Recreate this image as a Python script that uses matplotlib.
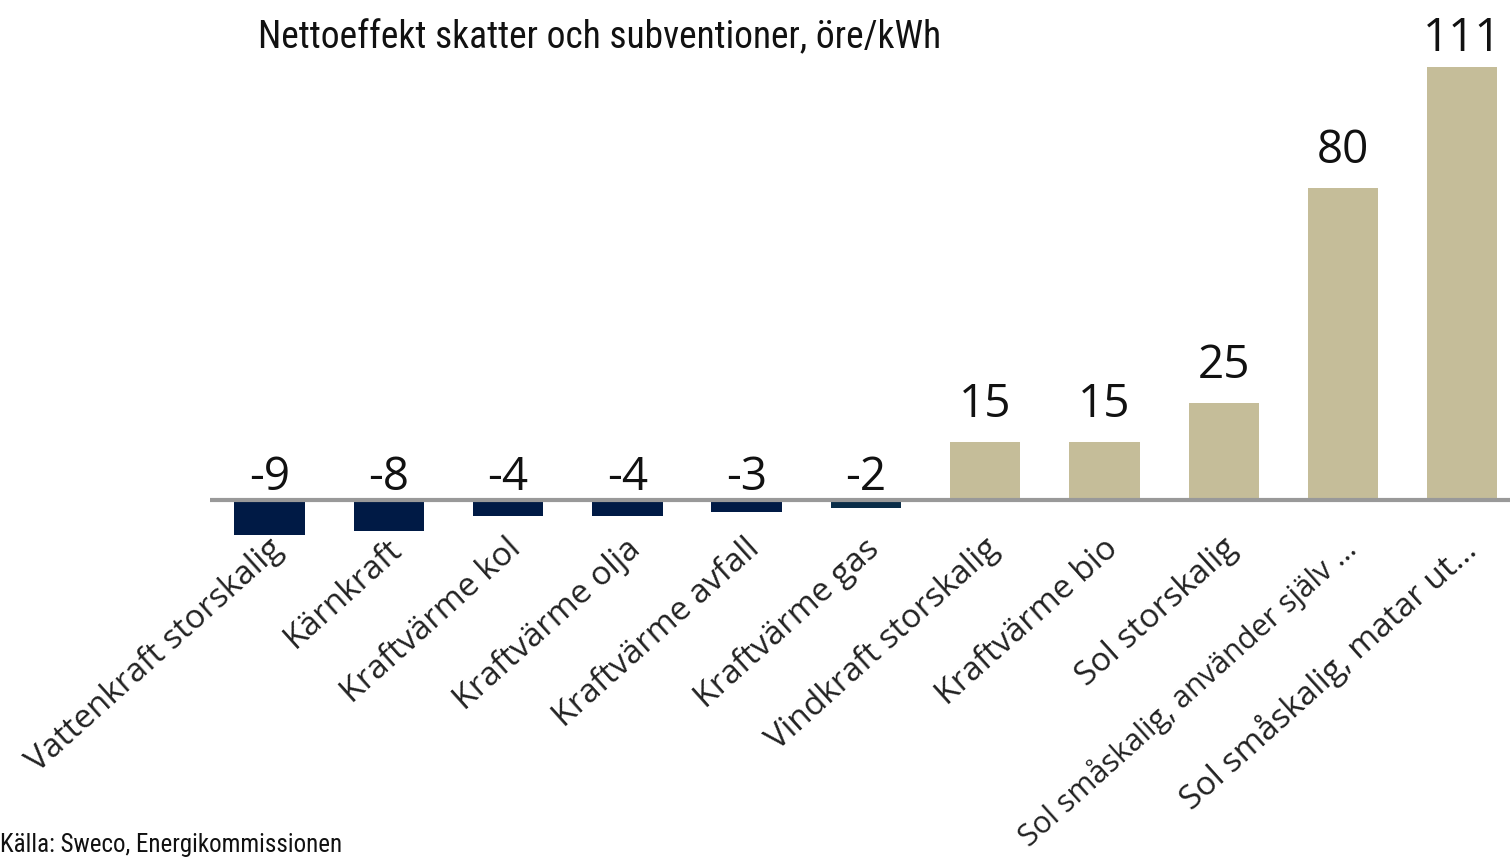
import matplotlib
matplotlib.use("Agg")
import matplotlib.pyplot as plt
import matplotlib.transforms as mtransforms

categories = ["Vattenkraft storskalig", "Kärnkraft", "Kraftvärme kol", "Kraftvärme olja",
              "Kraftvärme avfall", "Kraftvärme gas", "Vindkraft storskalig", "Kraftvärme bio",
              "Sol storskalig", "Sol småskalig, använder själv …", "Sol småskalig, matar ut…"]
values = [-9, -8, -4, -4, -3, -2, 15, 15, 25, 80, 111]

narrow = ["Roboto Condensed", "Liberation Sans Narrow", "Liberation Sans"]

neg_color = "#001A45"
gas_color = "#0A2D48"
pos_color = "#C5BD99"
colors = [gas_color if c == "Kraftvärme gas" else (neg_color if v < 0 else pos_color)
          for c, v in zip(categories, values)]

fig = plt.figure(figsize=(15.1, 8.6), dpi=100)
ax = fig.add_axes([0.139, 0.373, 0.861, 0.567])

x = range(len(values))
ax.bar(x, values, width=0.59, color=colors, zorder=2)
ax.axhline(0, color="#999999", linewidth=3, zorder=3)

ax.set_xlim(-0.5, 10.4)
ax.set_ylim(-10, 115)

for xi, v in zip(x, values):
    base = max(v, 0)
    off = 7 if v < 0 else (12 if v > 100 else 18)
    ax.annotate(str(v), (xi, base), xytext=(0, off), textcoords="offset points",
                ha="center", va="baseline", fontsize=33,
                family="Open Sans", color="#111111")

ax.set_xticks(list(x))
ax.set_xticklabels(categories, rotation=42, ha="right", rotation_mode="anchor",
                   fontsize=24, family="Open Sans", color="#222222")
ax.tick_params(axis="x", length=0, pad=-5)
shift = mtransforms.ScaledTranslation(-2 / 100, 0, fig.dpi_scale_trans)
for lab in ax.get_xticklabels():
    lab.set_transform(lab.get_transform() + shift)
    if len(lab.get_text()) > 28:
        lab.set_fontsize(22)
ax.set_yticks([])
for s in ax.spines.values():
    s.set_visible(False)

fig.text(258 / 1510, 1 - 19 / 860, "Nettoeffekt skatter och subventioner, öre/kWh",
         ha="left", va="top", fontsize=27, family=narrow, color="#111111")
fig.text(0.0, 1 - 845 / 860, "Källa: Sweco, Energikommissionen",
         ha="left", va="center", fontsize=18, family=narrow, color="#111111")

fig.savefig("out.png", dpi=100)
